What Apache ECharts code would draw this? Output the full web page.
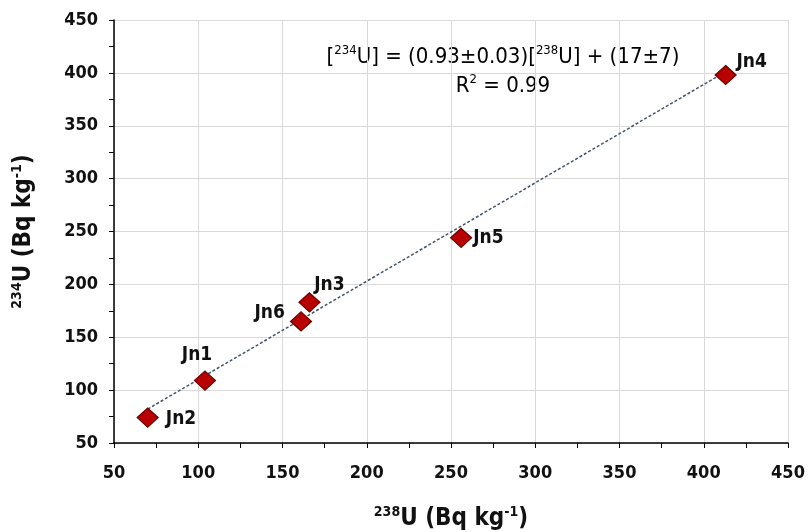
<!DOCTYPE html>
<html>
<head>
<meta charset="utf-8">
<script src="https://cdn.jsdelivr.net/npm/echarts@6/dist/echarts.min.js"></script>
<style>
	html, body { margin: 0; padding: 0; background: #fff; }
	#main { width: 811px; height: 532px; }
</style>
</head>
<body>
<div id="main"></div>
<script>
// sample names and activities (Bq/kg)
var sampleNames = ['Jn1', 'Jn2', 'Jn3', 'Jn4', 'Jn5', 'Jn6'];
var u238Values = [104, 70, 166, 413, 256, 161];
var u234Values = [109, 74, 183, 398, 244, 165];
// fit printed on the chart
var fitSlope = 0.93;
var fitIntercept = 17;
var axisTicks = [50, 100, 150, 200, 250, 300, 350, 400, 450];

var fontFam = '"Liberation Sans Narrow", "DejaVu Sans Condensed", Lato, sans-serif';
var textCol = '#111';

// where each label sits around its marker
var labelPlace = {
	Jn1: { position: 'top', offset: [-8, -1] },
	Jn2: { position: 'right', offset: [2, 1] },
	Jn3: { position: 'top', offset: [20, 7] },
	Jn4: { position: 'top', offset: [26, 12] },
	Jn5: { position: 'right', offset: [-4, 0] },
	Jn6: { position: 'left', offset: [0, -8] }
};

var points = sampleNames.map(function (n, i) {
	return {
		name: n,
		value: [u238Values[i], u234Values[i]],
		label: labelPlace[n]
	};
});

var xMin = Math.min.apply(null, u238Values);
var xMax = Math.max.apply(null, u238Values);
var fitLine = [
	[xMin, fitSlope * xMin + fitIntercept],
	[xMax, fitSlope * xMax + fitIntercept]
];

var supRich = {
	b: { fontSize: 24, fontWeight: 'bold', color: textCol, fontFamily: fontFam, lineHeight: 28 },
	s: { fontSize: 14, fontWeight: 'bold', color: textCol, fontFamily: fontFam, verticalAlign: 'top', lineHeight: 28 }
};

var eqRich = {
	n: { fontSize: 22, color: textCol, fontFamily: fontFam, lineHeight: 26 },
	s: { fontSize: 13, color: textCol, fontFamily: fontFam, verticalAlign: 'top', lineHeight: 26 }
};

var chart = echarts.init(document.getElementById('main'));
var option = {
	animation: false,
	backgroundColor: '#fff',
	grid: { left: 114, right: 23, top: 20, bottom: 89, outerBoundsMode: 'none', containLabel: false },
	xAxis: {
		type: 'value',
		min: axisTicks[0],
		max: axisTicks[axisTicks.length - 1],
		interval: 50,
		name: '{s|238}{b|U (Bq kg}{s|-1}{b|)}',
		nameLocation: 'middle',
		nameGap: 62,
		nameTextStyle: { rich: supRich },
		axisLine: { show: true, lineStyle: { color: '#000', width: 1.5 } },
		axisTick: { show: true, inside: false, length: 5, lineStyle: { color: '#000' } },
		minorTick: { show: true, splitNumber: 2, length: 5, lineStyle: { color: '#000' } },
		axisLabel: { color: textCol, fontSize: 18, fontWeight: 'bold', fontFamily: fontFam, margin: 21 },
		splitLine: { show: true, lineStyle: { color: '#d9d9d9' } }
	},
	yAxis: {
		type: 'value',
		min: axisTicks[0],
		max: axisTicks[axisTicks.length - 1],
		interval: 50,
		name: '{s|234}{b|U (Bq kg}{s|-1}{b|)}',
		nameLocation: 'middle',
		nameRotate: 90,
		nameGap: 76,
		nameTextStyle: { rich: supRich },
		axisLine: { show: true, lineStyle: { color: '#000', width: 1.5 } },
		axisTick: { show: true, inside: false, length: 5, lineStyle: { color: '#000' } },
		minorTick: { show: true, splitNumber: 2, length: 5, lineStyle: { color: '#000' } },
		axisLabel: { color: textCol, fontSize: 18, fontWeight: 'bold', fontFamily: fontFam, margin: 16 },
		splitLine: { show: true, lineStyle: { color: '#d9d9d9' } }
	},
	graphic: [
		{
			type: 'text',
			x: 503,
			y: 57,
			style: {
				text: '{n|[}{s|234}{n|U] = (0.93±0.03)[}{s|238}{n|U] + (17±7)}',
				rich: eqRich,
				align: 'center',
				verticalAlign: 'middle'
			}
		},
		{
			type: 'text',
			x: 503,
			y: 86,
			style: {
				text: '{n|R}{s|2}{n| = 0.99}',
				rich: eqRich,
				align: 'center',
				verticalAlign: 'middle'
			}
		}
	],
	series: [
		{
			type: 'line',
			data: fitLine,
			symbol: 'none',
			silent: true,
			z: 2,
			lineStyle: { color: '#44546a', width: 1.5, type: [3, 2] }
		},
		{
			type: 'scatter',
			data: points,
			symbol: 'diamond',
			symbolSize: [21, 19],
			z: 3,
			itemStyle: { color: '#b80000', borderColor: '#6a0000', borderWidth: 1.2, opacity: 1 },
			label: {
				show: true,
				formatter: '{b}',
				color: textCol,
				opacity: 1,
				fontSize: 19,
				fontWeight: 'bold',
				fontFamily: fontFam
			}
		}
	]
};
chart.setOption(option);
</script>
</body>
</html>
